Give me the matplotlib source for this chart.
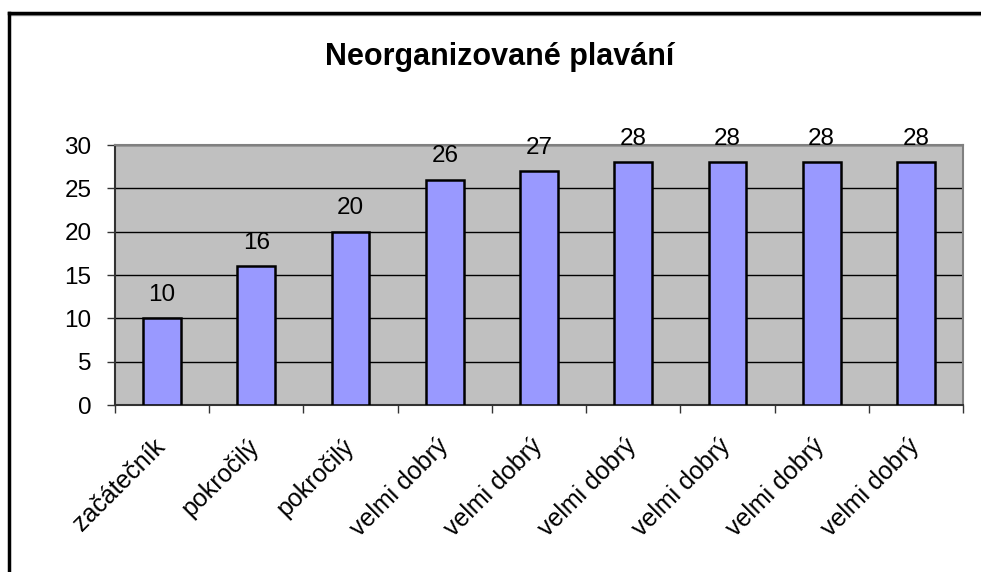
import matplotlib
matplotlib.use("Agg")
import matplotlib.pyplot as plt
from matplotlib.lines import Line2D
from matplotlib.transforms import ScaledTranslation
import numpy as np

categories = ["začátečník", "pokročilý", "pokročilý", "velmi dobrý", "velmi dobrý",
              "velmi dobrý", "velmi dobrý", "velmi dobrý", "velmi dobrý"]
values = [10, 16, 20, 26, 27, 28, 28, 28, 28]
yticks = [0, 5, 10, 15, 20, 25, 30]
title = "Neorganizované plavání"

plt.rcParams['font.family'] = ['Liberation Sans', 'DejaVu Sans']

W, H = 981, 572
fig = plt.figure(figsize=(W / 100, H / 100), dpi=100)
ax = fig.add_axes([115 / W, 1 - 405 / H, (963 - 115) / W, (405 - 145) / H])
ax.set_facecolor('#C0C0C0')

x = np.arange(len(categories))
ax.bar(x, values, width=0.4, color='#9999FF', edgecolor='black', linewidth=1.8, zorder=3)
for xi, v in zip(x, values):
    ax.annotate(str(v), (xi, v), xytext=(0, 9), textcoords='offset points',
                ha='center', va='bottom', fontsize=17.5, zorder=4)

ax.set_xlim(-0.5, len(categories) - 0.5)
ax.set_ylim(0, 30)
ax.set_yticks(yticks)
ax.set_yticklabels([str(t) for t in yticks], fontsize=17.5)
ax.yaxis.grid(True, color='black', linewidth=1.0, zorder=1)
ax.set_axisbelow(True)

ax.set_xticks(np.arange(-0.5, len(categories), 1.0))
ax.set_xticklabels([])
ax.set_xticks(x, minor=True)
ax.set_xticklabels(categories, minor=True, rotation=45, ha='right',
                   rotation_mode='anchor', fontsize=18)
ax.tick_params(axis='x', which='minor', length=0, pad=21)
ax.tick_params(axis='x', which='major', length=6, width=1, color='#333333', direction='out')
ax.tick_params(axis='y', length=6, width=1, color='#333333', direction='out', pad=11)
for lab in ax.get_xticklabels(minor=True):
    lab.set_transform(lab.get_transform() + ScaledTranslation(-9 / 100, 0, fig.dpi_scale_trans))

for side in ['top', 'right']:
    ax.spines[side].set_color('#808080')
    ax.spines[side].set_linewidth(1.5)
for side in ['left', 'bottom']:
    ax.spines[side].set_color('#333333')
    ax.spines[side].set_linewidth(1.5)

fig.text(500 / W, 1 - 57 / H, title, ha='center', va='center', fontsize=22, fontweight='bold')

# figure border (top and left)
fig.add_artist(Line2D([9 / W, 1.0], [1 - 14.5 / H, 1 - 14.5 / H], color='#999999', linewidth=1.0,
                      transform=fig.transFigure))
fig.add_artist(Line2D([9 / W, 1.0], [1 - 13 / H, 1 - 13 / H], color='black', linewidth=2.5,
                      transform=fig.transFigure))
fig.add_artist(Line2D([9 / W, 9 / W], [1 - 13 / H, 0.0], color='black', linewidth=2.5,
                      transform=fig.transFigure))

fig.savefig('out.png', dpi=100)
